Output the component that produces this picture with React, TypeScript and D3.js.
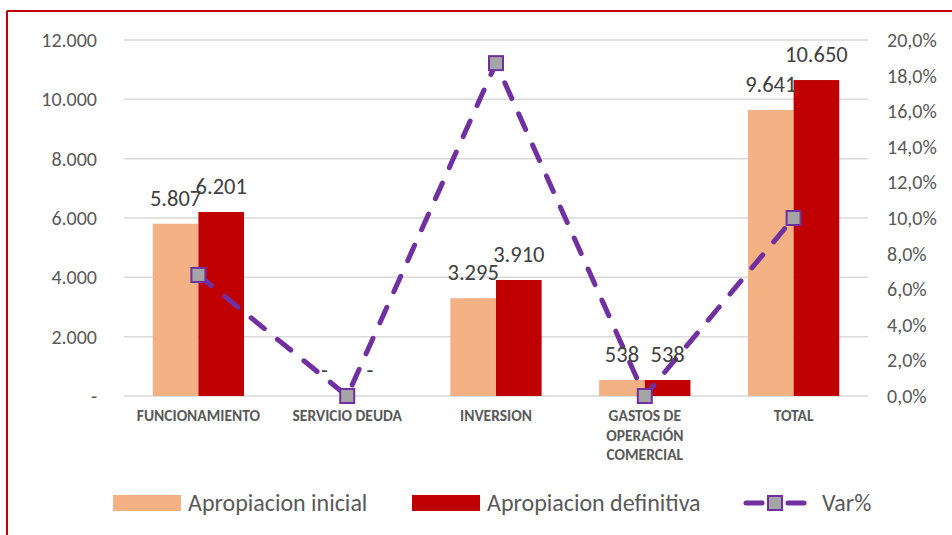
import React from "react";
import * as d3 from "d3";

const categories = ["FUNCIONAMIENTO", "SERVICIO DEUDA", "INVERSION", "GASTOS DE OPERACIÓN COMERCIAL", "TOTAL"];
const seriesNames = ["Apropiacion inicial", "Apropiacion definitiva"];
const apropiacionInicial = [5807, 0, 3295, 538, 9641];
const apropiacionDefinitiva = [6201, 0, 3910, 538, 10650];
const varPct = [0.068, 0, 0.187, 0, 0.1];
const leftTicks = [0, 2000, 4000, 6000, 8000, 10000, 12000];
const rightTicks = [0, 0.02, 0.04, 0.06, 0.08, 0.1, 0.12, 0.14, 0.16, 0.18, 0.2];
const lineName = "Var%";

const COLORS = ["#F4B183", "#C00000"];
const LINE = "#7030A0";
const FONT = "Carlito, Calibri, Lato, 'Open Sans', sans-serif";

const fmtNum = (v: number) => (v === 0 ? "-" : d3.format(",.0f")(v).replace(/,/g, "."));
const fmtPct = (v: number) => d3.format(".1f")(v * 100).replace(".", ",") + "%";

function wrap(s: string, max = 15): string[] {
  const words = s.split(" ");
  const lines: string[] = [];
  let cur = "";
  for (const w of words) {
    const t = cur ? cur + " " + w : w;
    if (t.length > max && cur) {
      lines.push(cur);
      cur = w;
    } else cur = t;
  }
  if (cur) lines.push(cur);
  return lines;
}

export default function App() {
  const W = 952, H = 535;
  const left = 124, right = 868, top = 40, bottom = 396;
  const x = d3.scaleBand<string>().domain(categories).range([left, right]).padding(0);
  const xs = d3.scaleBand<string>().domain(seriesNames).range([0, x.bandwidth()]).paddingInner(0).paddingOuter(0.63);
  const y = d3.scaleLinear().domain([0, 12000]).range([bottom, top]);
  const y2 = d3.scaleLinear().domain([0, 0.2]).range([bottom, top]);
  const data = [apropiacionInicial, apropiacionDefinitiva];
  const cx = (c: string) => (x(c) as number) + x.bandwidth() / 2;
  const linePath = d3.line<number>().x((_, i) => cx(categories[i])).y((v) => y2(v))(varPct) as string;

  return (
    <svg width={W} height={H} style={{ position: "absolute", left: 0, top: 0, background: "#fff" }} fontFamily={FONT}>
      <rect x={0} y={0} width={W} height={H} fill="#fff" />
      {/* frame */}
      <line x1={7} x2={W + 5} y1={11} y2={11} stroke="#C00000" strokeWidth={2} />
      <line x1={7} x2={7} y1={11} y2={H + 5} stroke="#C00000" strokeWidth={2} />
      {/* gridlines */}
      {leftTicks.map((t) => (
        <line key={"g" + t} x1={left} x2={right} y1={y(t)} y2={y(t)} stroke="#D9D9D9" strokeWidth={1.5} />
      ))}
      {leftTicks.map((t) => (
        <text key={"l" + t} x={97} y={y(t)} dy="0.35em" textAnchor="end" fontSize={20} fill="#595959">
          {fmtNum(t)}
        </text>
      ))}
      {rightTicks.map((t) => (
        <text key={"r" + t} x={887} y={y2(t)} dy="0.35em" textAnchor="start" fontSize={20} fill="#595959">
          {fmtPct(t)}
        </text>
      ))}
      {/* bars */}
      {data.map((arr, si) =>
        arr.map((v, i) => {
          const c = categories[i];
          const bx = (x(c) as number) + (xs(seriesNames[si]) as number);
          return (
            <rect key={"b" + si + i} x={bx} y={y(v)} width={xs.bandwidth()} height={bottom - y(v)} fill={COLORS[si]} />
          );
        })
      )}
      {/* category labels */}
      {categories.map((c) => (
        <text key={"c" + c} x={cx(c)} y={421} textAnchor="middle" fontSize={15.5} fontWeight="bold" fill="#595959">
          {wrap(c).map((ln, k) => (
            <tspan key={k} x={cx(c)} dy={k === 0 ? 0 : 19.5}>
              {ln}
            </tspan>
          ))}
        </text>
      ))}
      {/* line */}
      <path d={linePath} fill="none" stroke={LINE} strokeWidth={5} strokeDasharray="17 17" strokeLinecap="round" />
      {varPct.map((v, i) => (
        <rect key={"m" + i} x={cx(categories[i]) - 7} y={y2(v) - 7} width={14} height={14} fill="#A5A5A5" stroke={LINE} strokeWidth={2} />
      ))}
      {/* data labels */}
      {data.map((arr, si) =>
        arr.map((v, i) => {
          const c = categories[i];
          const bx = (x(c) as number) + (xs(seriesNames[si]) as number) + xs.bandwidth() / 2;
          return (
            <text key={"dl" + si + i} x={bx} y={y(v) - 18} textAnchor="middle" fontSize={22.5} fill="#404040">
              {fmtNum(v)}
            </text>
          );
        })
      )}
      {/* legend */}
      <rect x={113} y={495} width={68} height={16} fill={COLORS[0]} />
      <text x={188} y={503} dy="0.35em" fontSize={24} fill="#595959">{seriesNames[0]}</text>
      <rect x={412} y={495} width={68} height={16} fill={COLORS[1]} />
      <text x={487} y={503} dy="0.35em" fontSize={24} fill="#595959">{seriesNames[1]}</text>
      <line x1={746} x2={762} y1={503} y2={503} stroke={LINE} strokeWidth={5} strokeLinecap="round" />
      <line x1={788} x2={804} y1={503} y2={503} stroke={LINE} strokeWidth={5} strokeLinecap="round" />
      <rect x={768} y={496} width={14} height={14} fill="#A5A5A5" stroke={LINE} strokeWidth={2} />
      <text x={822} y={503} dy="0.35em" fontSize={24} fill="#595959">{lineName}</text>
    </svg>
  );
}
